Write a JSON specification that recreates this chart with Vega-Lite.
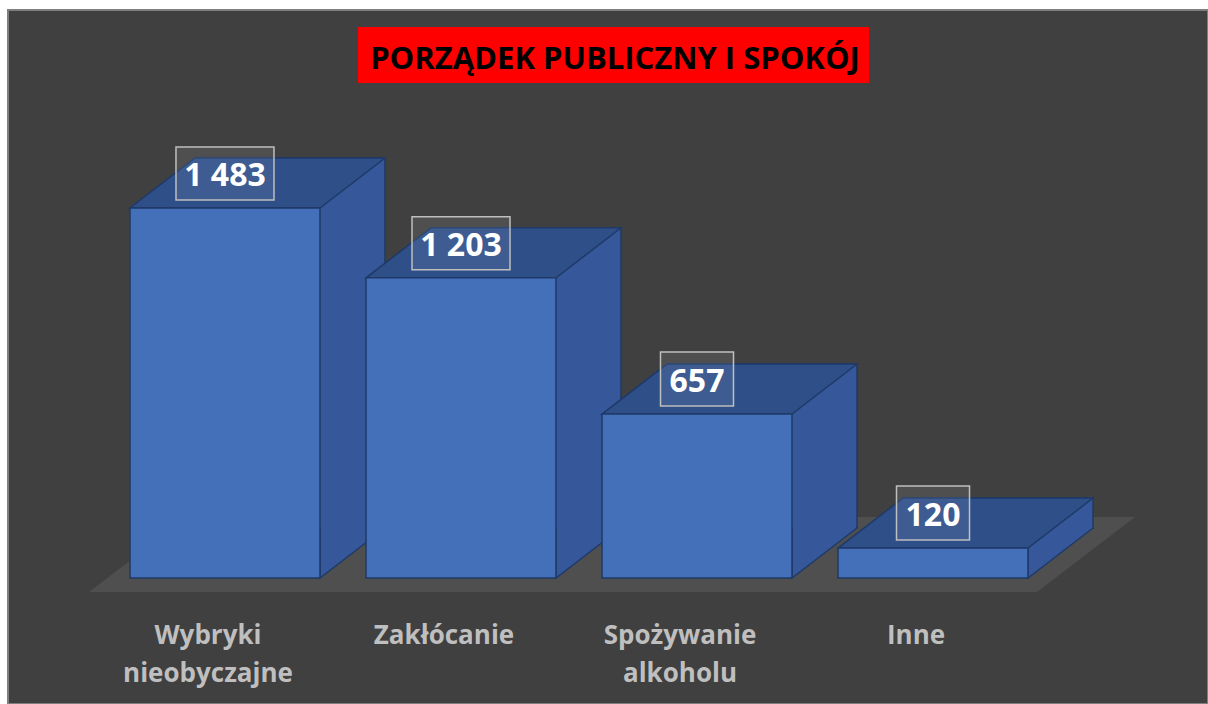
{
  "$schema": "https://vega.github.io/schema/vega-lite/v6.json",
  "width": 1200,
  "height": 694,
  "autosize": {"type": "none"},
  "padding": {"left": 8, "top": 10, "right": 0, "bottom": 0},
  "background": "#ffffff",
  "view": {"fill": "#404040", "fillOpacity": 1, "stroke": "#7f7f7f", "strokeWidth": 2},
  "config": {
    "view": {"fill": "#404040", "fillOpacity": 1, "stroke": "#7f7f7f", "strokeWidth": 2},
    "locale": {"number": {"decimal": ",", "thousands": " ", "grouping": [3], "currency": ["", " zł"]}},
    "font": "Open Sans"
  },
  "data": {
    "values": [
      {"kategoria": "Wybryki nieobyczajne", "liczba": 1483},
      {"kategoria": "Zakłócanie", "liczba": 1203},
      {"kategoria": "Spożywanie alkoholu", "liczba": 657},
      {"kategoria": "Inne", "liczba": 120}
    ]
  },
  "layer": [
    {
      "data": {"values": [{}]},
      "mark": {"type": "point", "shape": "M-519,14L429,14L527,-61L-421,-61Z", "size": 4, "filled": true, "fill": "#4f4f4f", "strokeWidth": 0, "opacity": 1},
      "encoding": {
        "y": {"datum": 0, "type": "quantitative", "scale": {"domain": [0, 1483], "range": [568, 198], "nice": false, "zero": false}, "axis": null}
      }
    },
    {
      "encoding": {
        "x": {
          "field": "kategoria", "type": "nominal", "sort": null,
          "scale": {"range": [122, 1020], "paddingInner": 0.195, "paddingOuter": 0},
          "axis": {
            "title": null, "domain": false, "ticks": false, "tickSize": 0, "grid": false,
            "labelAngle": 0, "labelAlign": "center", "labelBaseline": "alphabetic",
            "labelExpr": "split(datum.label, ' ')",
            "labelFont": "Open Sans", "labelFontWeight": "bold", "labelFontSize": 26,
            "labelColor": "#bfbfbf", "labelLineHeight": 38, "labelPadding": 0,
            "labelOffset": -17, "offset": -61, "labelLimit": 0, "labelOverlap": false, "labelFlush": false
          }
        },
        "y": {"field": "liczba", "type": "quantitative", "scale": {"domain": [0, 1483], "range": [568, 198], "nice": false, "zero": false}, "axis": null}
      },
      "layer": [
        {
          "mark": {"type": "bar", "xOffset": 65, "x2Offset": 65, "yOffset": -50, "y2Offset": -50, "fill": "#36589a", "stroke": "#1f3a68", "strokeWidth": 1.5},
          "encoding": {"y2": {"datum": 0}}
        },
        {
          "mark": {"type": "point", "shape": "M160,-51.5L160,-50L95,0L95,-51.5", "size": 4, "filled": true, "fill": "#36589a", "stroke": "#1f3a68", "strokeWidth": 1.5, "opacity": 1},
          "encoding": {"y": {"datum": 0, "type": "quantitative"}}
        },
        {
          "mark": {"type": "point", "shape": "M-95,0L95,0L160,-50L-30,-50Z", "size": 4, "filled": true, "fill": "#2e4f88", "stroke": "#1f3a68", "strokeWidth": 1.5, "opacity": 1}
        },
        {
          "mark": {"type": "bar", "fill": "#4370b8", "stroke": "#1f3a68", "strokeWidth": 1.5},
          "encoding": {"y2": {"datum": 0}}
        },
        {
          "transform": [{"filter": "datum.liczba >= 1000"}],
          "mark": {"type": "point", "shape": "M-49,-61H49V-8H-49Z", "size": 4, "filled": true, "fill": "#ffffff", "fillOpacity": 0.08, "stroke": "#bfbfbf", "strokeWidth": 1.5, "opacity": 1}
        },
        {
          "transform": [{"filter": "datum.liczba < 1000"}],
          "mark": {"type": "point", "shape": "M-36.5,-62H36.5V-8H-36.5Z", "size": 4, "filled": true, "fill": "#ffffff", "fillOpacity": 0.08, "stroke": "#bfbfbf", "strokeWidth": 1.5, "opacity": 1}
        },
        {
          "mark": {"type": "text", "font": "Open Sans", "fontWeight": "bold", "fontSize": 32, "color": "#ffffff", "fill": "#ffffff", "baseline": "alphabetic", "align": "center", "dy": -22},
          "encoding": {"text": {"field": "liczba", "type": "quantitative", "format": ",d"}}
        }
      ]
    },
    {
      "data": {"values": [{"tytul": "PORZĄDEK PUBLICZNY I SPOKÓJ"}]},
      "layer": [
        {
          "mark": {"type": "point", "shape": "M-250,-330H261V-274H-250Z", "size": 4, "filled": true, "fill": "#ff0000", "strokeWidth": 0, "opacity": 1}
        },
        {
          "mark": {"type": "text", "font": "Open Sans", "fontWeight": "bold", "fontSize": 31, "fill": "#000000", "baseline": "alphabetic", "align": "center", "dx": 7, "dy": -288},
          "encoding": {"text": {"field": "tytul", "type": "nominal"}}
        }
      ]
    }
  ]
}
